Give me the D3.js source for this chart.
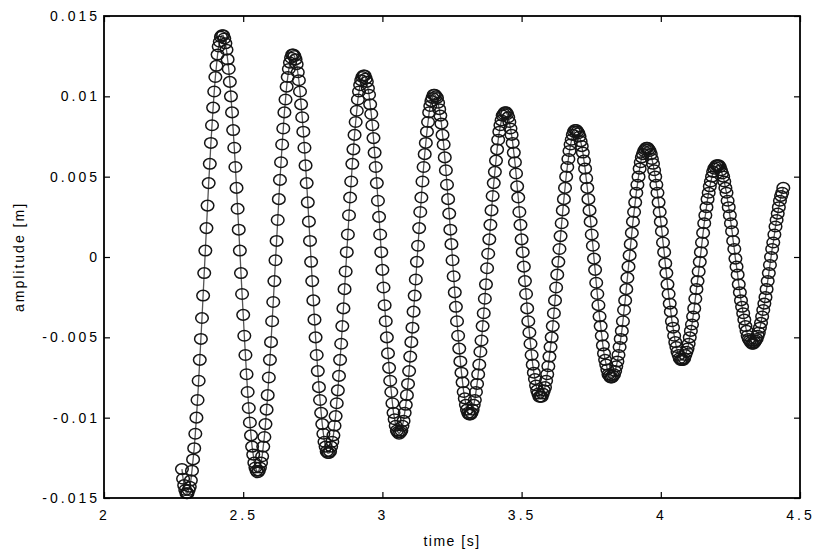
<!DOCTYPE html>
<html><head><meta charset="utf-8">
<script src="https://cdn.jsdelivr.net/npm/d3@7"></script>
<style>body{margin:0;background:#fff} svg{display:block} text{font-family:"Liberation Sans",Arial,Helvetica,sans-serif}</style>
</head><body><svg id="chart" width="816" height="554"></svg>
<script>
// ---- data ----
const timeStart = 2.280;        // s, first sample
const sampleInterval = 0.004;   // s, 250 Hz sampling
const amplitudeMM = [
 -13.2,-13.8,-14.2,-14.5,-14.7,
 -14.7,-14.5,-14.3,-13.9,-13.3,-12.6,-11.9,-11.0,-10.0,-8.9,-7.7,-6.4,-5.1,-3.8,-2.4,-1.0,0.4,1.8,3.2,4.6,5.8,7.1,8.2,9.3,10.3,11.2,11.9,12.6,13.1,13.4,13.7,13.8,
 13.8,13.6,13.3,12.9,12.3,11.7,10.9,10.0,9.0,7.9,6.8,5.6,4.3,3.0,1.7,0.4,-1.0,-2.3,-3.6,-4.9,-6.1,-7.3,-8.4,-9.4,-10.3,-11.1,-11.8,-12.3,-12.8,-13.1,-13.3,
 -13.4,-13.3,-13.1,-12.8,-12.4,-11.8,-11.2,-10.4,-9.5,-8.6,-7.5,-6.4,-5.3,-4.0,-2.8,-1.5,-0.2,1.0,2.3,3.6,4.8,5.9,7.0,8.0,9.0,9.8,10.6,11.2,11.7,12.1,12.4,12.6,
 12.6,12.5,12.3,12.0,11.5,11.0,10.3,9.5,8.7,7.8,6.8,5.7,4.6,3.4,2.2,1.0,-0.3,-1.5,-2.7,-3.9,-5.0,-6.1,-7.1,-8.1,-8.9,-9.7,-10.4,-11.0,-11.5,-11.8,-12.1,-12.2,
 -12.2,-12.1,-11.8,-11.5,-11.1,-10.5,-9.9,-9.1,-8.3,-7.4,-6.4,-5.4,-4.3,-3.2,-2.0,-0.9,0.3,1.4,2.6,3.7,4.7,5.8,6.7,7.6,8.4,9.1,9.8,10.3,10.7,11.0,11.2,11.3,
 11.3,11.1,10.9,10.5,10.1,9.5,8.9,8.2,7.4,6.5,5.6,4.6,3.5,2.5,1.4,0.3,-0.8,-1.9,-3.0,-4.0,-5.0,-6.0,-6.9,-7.7,-8.4,-9.1,-9.7,-10.1,-10.5,-10.8,-10.9,
 -11.0,-10.9,-10.8,-10.5,-10.2,-9.7,-9.2,-8.6,-7.9,-7.1,-6.2,-5.3,-4.4,-3.4,-2.4,-1.4,-0.3,0.7,1.8,2.8,3.7,4.7,5.6,6.4,7.1,7.8,8.4,9.0,9.4,9.7,9.9,10.1,
 10.1,10.0,9.9,9.6,9.2,8.8,8.3,7.6,7.0,6.2,5.4,4.5,3.6,2.7,1.7,0.8,-0.2,-1.2,-2.2,-3.1,-4.0,-4.9,-5.7,-6.5,-7.2,-7.8,-8.4,-8.8,-9.2,-9.5,-9.7,-9.8,
 -9.8,-9.7,-9.5,-9.2,-8.9,-8.4,-7.9,-7.3,-6.7,-5.9,-5.2,-4.3,-3.5,-2.6,-1.7,-0.7,0.2,1.1,2.0,2.9,3.8,4.6,5.3,6.0,6.7,7.3,7.8,8.2,8.5,8.8,8.9,9.0,
 9.0,8.9,8.7,8.4,8.0,7.6,7.1,6.5,5.9,5.2,4.4,3.7,2.8,2.0,1.1,0.3,-0.6,-1.5,-2.3,-3.2,-4.0,-4.7,-5.4,-6.1,-6.7,-7.2,-7.6,-8.0,-8.3,-8.5,-8.7,
 -8.7,-8.7,-8.5,-8.3,-8.1,-7.7,-7.3,-6.8,-6.2,-5.6,-5.0,-4.3,-3.5,-2.7,-1.9,-1.1,-0.3,0.5,1.3,2.1,2.9,3.6,4.3,5.0,5.6,6.1,6.6,7.0,7.3,7.6,7.8,7.9,
 7.9,7.8,7.7,7.5,7.2,6.9,6.5,6.0,5.5,4.9,4.3,3.6,2.9,2.2,1.4,0.7,-0.1,-0.8,-1.6,-2.3,-3.0,-3.7,-4.3,-4.9,-5.5,-6.0,-6.4,-6.7,-7.0,-7.3,-7.4,-7.5,
 -7.5,-7.4,-7.3,-7.1,-6.8,-6.5,-6.1,-5.6,-5.1,-4.6,-4.0,-3.3,-2.7,-2.0,-1.3,-0.6,0.1,0.8,1.5,2.2,2.8,3.4,4.0,4.5,5.0,5.5,5.9,6.2,6.4,6.6,6.7,6.8,
 6.8,6.7,6.6,6.4,6.1,5.8,5.4,5.0,4.5,4.0,3.4,2.8,2.2,1.6,0.9,0.3,-0.4,-1.0,-1.7,-2.3,-2.9,-3.4,-4.0,-4.4,-4.9,-5.3,-5.6,-5.9,-6.1,-6.3,-6.4,
 -6.4,-6.4,-6.3,-6.1,-5.9,-5.7,-5.4,-5.0,-4.6,-4.2,-3.7,-3.2,-2.6,-2.0,-1.5,-0.9,-0.3,0.3,0.9,1.5,2.1,2.6,3.1,3.6,4.0,4.4,4.7,5.0,5.3,5.5,5.6,5.7,
 5.7,5.7,5.6,5.4,5.2,5.0,4.7,4.3,4.0,3.5,3.1,2.6,2.1,1.6,1.0,0.5,-0.1,-0.6,-1.1,-1.7,-2.2,-2.7,-3.1,-3.5,-3.9,-4.3,-4.6,-4.9,-5.1,-5.2,-5.3,-5.4,
 -5.4,-5.3,-5.2,-5.1,-4.9,-4.7,-4.4,-4.1,-3.7,-3.3,-2.9,-2.5,-2.0,-1.5,-1.0,-0.5,0.0,0.5,0.9,1.4,1.9,2.3,2.7,3.1,3.5,3.8,4.0,4.3
];
const xTicks = [2, 2.5, 3, 3.5, 4, 4.5];
const xTickLabels = ["2", "2.5", "3", "3.5", "4", "4.5"];
const yTicks = [-0.015, -0.01, -0.005, 0, 0.005, 0.01, 0.015];
const yTickLabels = ["-0.015", "-0.01", "-0.005", "0", "0.005", "0.01", "0.015"];
const xTitle = "time [s]";
const yTitle = "amplitude [m]";

// ---- chart ----
const W = 816, H = 554;
const m = {left: 104, right: 16, top: 16, bottom: 56};
const iw = W - m.left - m.right, ih = H - m.top - m.bottom;
const svg = d3.select("#chart");
const g = svg.append("g").attr("transform", `translate(${m.left},${m.top})`);

const x = d3.scaleLinear().domain([2, 4.5]).range([0, iw]);
const y = d3.scaleLinear().domain([-0.015, 0.015]).range([ih, 0]);

const data = amplitudeMM.map((v, i) => ({t: timeStart + i * sampleInterval, a: v / 1000}));

g.append("path").datum(data)
  .attr("fill", "none").attr("stroke", "#555").attr("stroke-width", 1.3)
  .attr("d", d3.line().x(d => x(d.t)).y(d => y(d.a)));

g.append("g").selectAll("ellipse").data(data).join("ellipse")
  .attr("cx", d => x(d.t)).attr("cy", d => y(d.a))
  .attr("rx", 6.3).attr("ry", 5.3)
  .attr("fill", "none").attr("stroke", "#151515").attr("stroke-width", 1.5);

function styleAxis(sel){
  sel.select(".domain").remove();
  sel.selectAll("line").attr("stroke", "#000").attr("stroke-width", 1.2);
  sel.selectAll("text").attr("fill", "#000").style("font-size", "14px").style("letter-spacing", "3px");
}
g.append("g").attr("transform", `translate(0,${ih})`)
  .call(d3.axisBottom(x).tickValues(xTicks).tickFormat((d, i) => xTickLabels[i]).tickSizeInner(-6).tickSizeOuter(0).tickPadding(12))
  .call(styleAxis);
g.append("g")
  .call(d3.axisTop(x).tickValues(xTicks).tickFormat("").tickSizeInner(-6).tickSizeOuter(0))
  .call(styleAxis);
g.append("g")
  .call(d3.axisLeft(y).tickValues(yTicks).tickFormat((d, i) => yTickLabels[i]).tickSizeInner(-6).tickSizeOuter(0).tickPadding(4))
  .call(styleAxis);
g.append("g").attr("transform", `translate(${iw},0)`)
  .call(d3.axisRight(y).tickValues(yTicks).tickFormat("").tickSizeInner(-6).tickSizeOuter(0))
  .call(styleAxis);

g.append("rect").attr("width", iw).attr("height", ih)
  .attr("fill", "none").attr("stroke", "#000").attr("stroke-width", 1.8);

svg.append("text").attr("x", m.left + iw / 2).attr("y", 546)
  .attr("text-anchor", "middle").style("font-size", "14px").style("letter-spacing", "1.5px").text(xTitle);
svg.append("text").attr("transform", `translate(19,${m.top + ih / 2}) rotate(-90)`)
  .attr("text-anchor", "middle").attr("dominant-baseline", "central")
  .style("font-size", "14px").style("letter-spacing", "2px").text(yTitle);
</script></body></html>
